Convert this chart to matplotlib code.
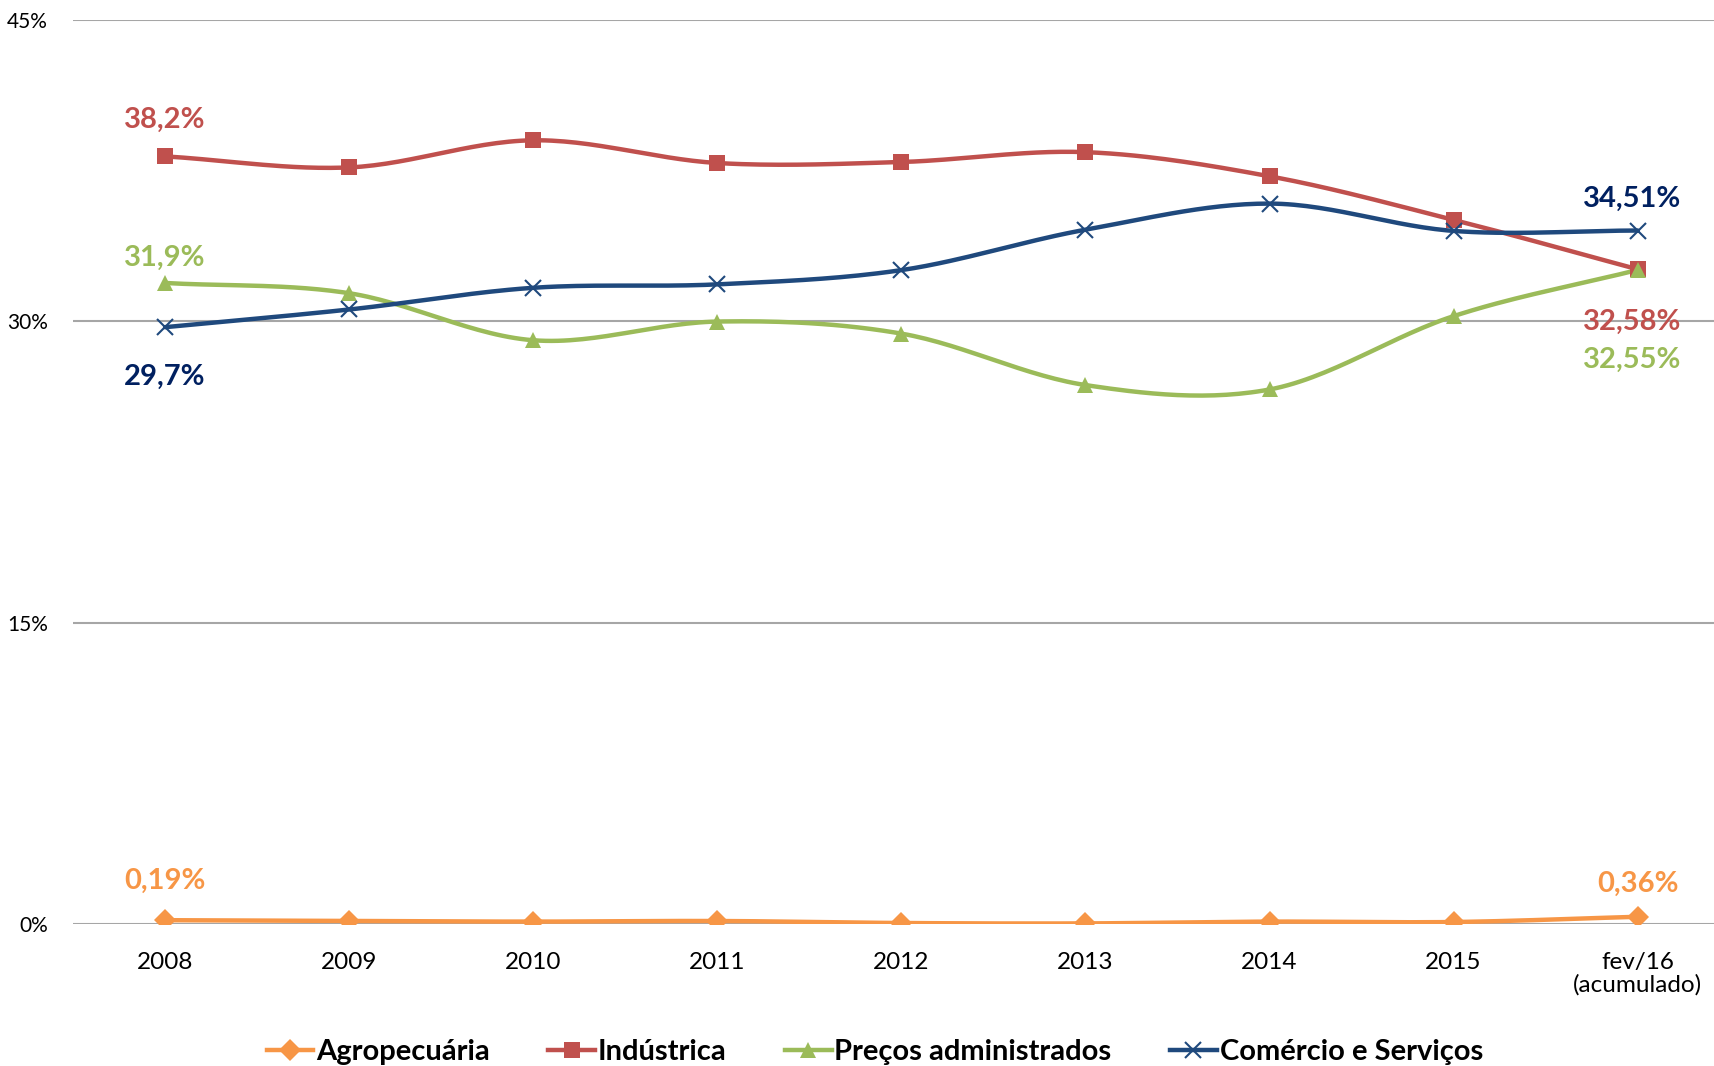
import numpy as np
import matplotlib
matplotlib.use('Agg')
import matplotlib.pyplot as plt
from matplotlib.lines import Line2D

plt.rcParams['font.family'] = ['Lato', 'DejaVu Sans']

categories = ['2008', '2009', '2010', '2011', '2012', '2013', '2014', '2015', 'fev/16\n(acumulado)']
agro = [0.19, 0.15, 0.12, 0.15, 0.05, 0.03, 0.12, 0.10, 0.36]
industria = [38.2, 37.65, 39.0, 37.87, 37.92, 38.41, 37.21, 35.04, 32.58]
precos_adm = [31.9, 31.39, 29.05, 29.98, 29.38, 26.82, 26.6, 30.25, 32.55]
comercio = [29.7, 30.58, 31.66, 31.83, 32.54, 34.55, 35.85, 34.49, 34.51]


def smooth(y, n=30):
    # Catmull-Rom spline through the points, like Excel's smoothed line
    y = np.asarray(y, dtype=float)
    x = np.arange(len(y), dtype=float)
    p = np.concatenate([[2 * y[0] - y[1]], y, [2 * y[-1] - y[-2]]])
    xs, ys = [], []
    for i in range(len(y) - 1):
        t = np.linspace(0, 1, n, endpoint=False)
        p0, p1, p2, p3 = p[i], p[i + 1], p[i + 2], p[i + 3]
        seg = 0.5 * ((2 * p1) + (-p0 + p2) * t + (2 * p0 - 5 * p1 + 4 * p2 - p3) * t ** 2
                     + (-p0 + 3 * p1 - 3 * p2 + p3) * t ** 3)
        xs.extend(x[i] + t)
        ys.extend(seg)
    xs.append(x[-1])
    ys.append(y[-1])
    return np.array(xs), np.array(ys)


fig = plt.figure(figsize=(17.15, 10.66), dpi=100)
ax = fig.add_axes([0.0426, 0.1332, 0.9574, 0.8483])

series = [
    ('Agropecuária', agro, '#F79646', 'D', 11, '#F79646'),
    ('Indústrica', industria, '#C0504D', 's', 12, '#C0504D'),
    ('Preços administrados', precos_adm, '#9BBB59', '^', 12, '#9BBB59'),
    ('Comércio e Serviços', comercio, '#1F497D', 'x', 12, '#002060'),
]

x = np.arange(len(categories))
handles = []
for name, vals, color, marker, ms, lab_color in series:
    sx, sy = smooth(vals)
    ax.plot(sx, sy, color=color, lw=3.2, zorder=3, solid_capstyle='round')
    mew = 1.5 if marker == 'x' else 0
    ax.plot(x, vals, ls='none', marker=marker, ms=ms, color=color, mew=mew, zorder=4)
    handles.append(Line2D([], [], color=color, lw=3.2, marker=marker, ms=ms, mew=mew))

# data labels: first and last points
lab = dict(fontsize=21, fontweight='bold', ha='center', va='center')
ax.text(0, industria[0] + 1.8, '38,2%', color='#C0504D', **lab)
ax.text(0, precos_adm[0] + 1.25, '31,9%', color='#9BBB59', **lab)
ax.text(0, comercio[0] - 2.45, '29,7%', color='#002060', **lab)
ax.text(0, agro[0] + 1.95, '0,19%', color='#F79646', **lab)
ax.text(7.97, comercio[-1] + 1.6, '34,51%', color='#002060', **lab)
ax.text(7.97, industria[-1] - 2.6, '32,58%', color='#C0504D', **lab)
ax.text(7.97, precos_adm[-1] - 4.5, '32,55%', color='#9BBB59', **lab)
ax.text(8, agro[-1] + 1.65, '0,36%', color='#F79646', **lab)

ax.set_ylim(0, 45)
ax.set_xlim(-0.5, 8.42)
ax.set_yticks([0, 15, 30, 45])
ax.set_yticklabels(['0%', '15%', '30%', '45%'], fontsize=15)
ax.set_xticks(x)
ax.set_xticklabels(categories, fontsize=17.5, linespacing=1.1)
ax.tick_params(length=0)
ax.tick_params(axis='x', pad=20)
ax.tick_params(axis='y', pad=18)
ax.yaxis.grid(True, color='#A6A6A6', lw=1.5)
ax.set_axisbelow(True)
for s in ax.spines.values():
    s.set_visible(False)

fig.legend(handles, [s[0] for s in series], loc='center', bbox_to_anchor=(0.51, 0.013),
           ncol=4, frameon=False, prop={'size': 21, 'weight': 'bold'},
           handlelength=1.6, handletextpad=0.1, columnspacing=2.0)

fig.savefig('out.png', dpi=100)
